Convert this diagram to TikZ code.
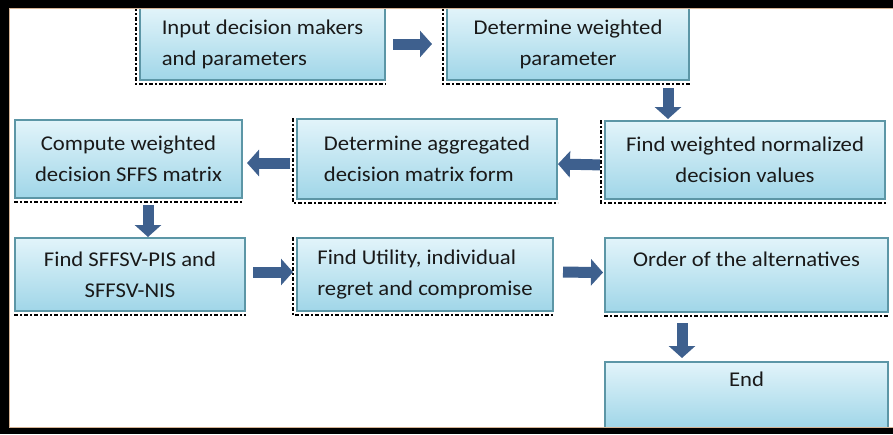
\documentclass[tikz,border=0pt]{standalone}
\usepackage{fontspec}
\newfontfamily\boxfont[FakeStretch=1.08]{Carlito}
\usetikzlibrary{arrows.meta}
\definecolor{boxline}{RGB}{92,150,166}
\definecolor{boxtop}{RGB}{226,244,250}
\definecolor{boxbottom}{RGB}{160,214,232}
\definecolor{flowblue}{RGB}{62,96,142}
\definecolor{framein}{RGB}{214,180,150}
\tikzset{>/.tip={Triangle[width=26pt,length=12pt]},
  stage/.style={draw=boxline, line width=2pt, top color=boxtop, bottom color=boxbottom,
    inner sep=0pt, text=black!90, font=\boxfont\fontsize{21}{31}\selectfont},
  flow/.style={draw=flowblue, line width=11pt},
  trim/.style={black, line width=2.5pt, dash pattern=on 4pt off 2pt on 2pt off 2pt}}

\begin{document}
\begin{tikzpicture}[x=1pt, y=1pt]
\useasboundingbox (0,-434) rectangle (893,0);
\node[stage, minimum width=245pt, minimum height=72pt, align=left]   (1) at (262.5,-44)  {Input decision makers\\and parameters};
\node[stage, minimum width=242pt, minimum height=72pt, align=center] (2) at (568,-44)    {Determine weighted\\parameter};
\node[stage, minimum width=280pt, minimum height=78pt, align=center] (5) at (745,-160)   {Find weighted normalized\\decision values};
\node[stage, minimum width=260pt, minimum height=80pt, align=left]   (4) at (427,-159)   {Determine aggregated\\decision matrix form};
\node[stage, minimum width=227pt, minimum height=78pt, align=center] (3) at (128.5,-159) {Compute weighted\\decision SFFS matrix};
\node[stage, minimum width=230pt, minimum height=73pt, align=center] (6) at (130,-274.5) {Find SFFSV-PIS and\\SFFSV-NIS};
\node[stage, minimum width=256pt, minimum height=73pt, align=left]   (7) at (425,-274.5) {Find Utility, individual\\regret and compromise};
\node[stage, minimum width=283pt, minimum height=74pt, align=center] (8) at (746.5,-275) {Order of the alternatives\\\mbox{}};
\node[stage, minimum width=283pt, minimum height=66pt, align=center] (9) at (746.5,-395) {End\\\mbox{}};

\foreach \n in {1,2,4,5,7}
  \draw[trim] ([xshift=-3pt]\n.north west) |- ([yshift=-3pt]\n.south east);
\foreach \n in {3,6,8}
  \draw[trim] ([yshift=-3pt]\n.south west) -- ([yshift=-3pt]\n.south east);

\path[->] (1) edge [flow, shorten <=7pt, shorten >=14pt] (2);
\path[->] ([xshift=100pt]2.south) edge [flow, shorten <=7pt, shorten >=1pt] ([xshift=100pt]2.south |- 5.north);
\path[->] ([yshift=-5pt]5.west) edge [flow, shorten <=4pt] ([yshift=-5pt]4.east);
\path[->] ([yshift=-4pt]4.west) edge [flow, shorten <=6pt, shorten >=4pt] ([yshift=-4pt]3.east);
\path[->] ([xshift=19.5pt]3.south) edge [flow, shorten <=6pt] ([xshift=19.5pt]3.south |- 6.north);
\path[->] ([yshift=2.5pt]6.east) edge [flow, shorten <=7pt, shorten >=3pt] ([yshift=2.5pt]7.west);
\path[->] ([yshift=2.5pt]7.east) edge [flow, shorten <=9pt, shorten >=1pt] ([yshift=2.5pt]8.west);
\path[->] ([xshift=-64.5pt]8.south) edge [flow, shorten <=10pt, shorten >=3pt] ([xshift=-64.5pt]8.south |- 9.north);

% frame
\fill (0,0) rectangle (893,-8);
\fill (0,0) rectangle (9,-434);
\fill (0,-428) rectangle (893,-434);
\draw[framein, line width=0.8pt] (893,-8.4) -- (9.4,-8.4) -- (9.4,-427.6) -- (893,-427.6);
\end{tikzpicture}
\end{document}
